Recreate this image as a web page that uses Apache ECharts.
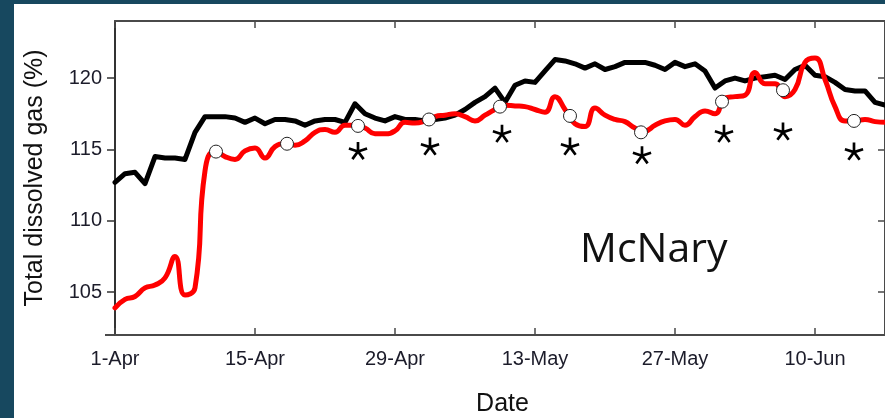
<!DOCTYPE html>
<html>
<head>
<meta charset="utf-8">
<script src="https://cdn.jsdelivr.net/npm/echarts@6/dist/echarts.min.js"></script>
<style>
  html, body { margin: 0; padding: 0; }
  body { width: 885px; height: 418px; background: #17485f; position: relative; overflow: hidden; }
  #chart { position: absolute; left: 14px; top: 4px; width: 871px; height: 414px; background: #fff; }
</style>
</head>
<body>
<div id="chart"></div>
<script>
// day 0 = 1-Apr, one value per day
var tickDays = [0, 14, 28, 42, 56, 70];
var tickLabels = ['1-Apr', '15-Apr', '29-Apr', '13-May', '27-May', '10-Jun'];
var yTicks = [105, 110, 115, 120];

// black line (daily)
var blackTDG = [
    112.7, 113.3, 113.4, 112.6, 114.5, 114.4, 114.4, 114.3, 116.2, 117.3,
    117.3, 117.3, 117.2, 116.9, 117.2, 116.8, 117.1, 117.1, 117.0, 116.7,
    117.0, 117.1, 117.1, 116.9, 118.2, 117.5, 117.2, 117.0, 117.3, 117.1,
    117.1, 117.0, 117.1, 117.2, 117.4, 117.8, 118.3, 118.7, 119.3, 118.3,
    119.5, 119.8, 119.7, 120.5, 121.3, 121.2, 121.0, 120.7, 121.0, 120.6,
    120.8, 121.1, 121.1, 121.1, 120.9, 120.6, 121.1, 120.8, 121.0, 120.5,
    119.3, 119.8, 120.0, 119.8, 120.0, 120.1, 120.2, 119.9, 120.6, 120.9,
    120.2, 120.1, 119.7, 119.2, 119.1, 119.1, 118.3, 118.1
];
// red line (daily)
var redTDG = [
    103.9, 104.5, 104.7, 105.3, 105.5, 106.0, 107.5, 104.8, 105.3, 113.5,
    114.9, 114.5, 114.3, 114.9, 115.1, 114.4, 115.2, 115.4, 115.3, 115.6,
    116.2, 116.4, 116.2, 116.7, 116.7, 116.5, 116.1, 116.1, 116.3, 116.9,
    116.85, 117.0, 117.3, 117.4, 117.5, 117.3, 117.0, 117.4, 117.8, 118.1,
    118.05, 118.0, 117.8, 117.6, 118.7, 117.8, 116.8, 116.6, 117.9, 117.4,
    117.1, 116.95, 116.5, 116.3, 116.7, 117.0, 117.1, 116.7, 117.3, 117.7,
    117.5, 118.6, 118.7, 118.8, 120.4, 119.6, 119.6, 118.7, 119.2, 121.1,
    121.4, 119.9, 118.0, 117.0, 117.0, 117.1, 116.95, 116.9
];
// open circles on the red line
var sampleDays = [10.1, 17.2, 24.3, 31.4, 38.5, 45.5, 52.6, 60.7, 66.8, 73.9];
var sampleTDG = [114.85, 115.4, 116.65, 117.1, 118.0, 117.35, 116.2, 118.35, 119.15, 117.0];
// asterisks
var starDays = [24.3, 31.5, 38.7, 45.5, 52.7, 60.9, 66.8, 73.9];
var starTDG = [114.9, 115.2, 116.1, 115.2, 114.6, 116.1, 116.25, 114.85];

function starPath() {
    // five-armed asterisk
    var R = 10, hw = 1.4, s = '';
    for (var k = 0; k < 5; k++) {
        var a = k * 72 * Math.PI / 180;
        var dx = Math.sin(a), dy = -Math.cos(a), px = Math.cos(a), py = Math.sin(a);
        var pts = [
            [px * hw, py * hw],
            [px * hw + dx * R, py * hw + dy * R],
            [-px * hw + dx * R, -py * hw + dy * R],
            [-px * hw, -py * hw]
        ];
        s += 'M' + pts.map(function (p) { return p[0].toFixed(2) + ' ' + p[1].toFixed(2); }).join(' L') + ' Z ';
    }
    return 'path://' + s;
}

var axisColor = '#4a4a4a';
var labelFont = { fontFamily: 'Liberation Sans', fontSize: 20, color: '#1c1c2a' };

var chart = echarts.init(document.getElementById('chart'));
chart.setOption({
    animation: false,
    grid: { left: 101, top: 17, width: 775, height: 314 },
    xAxis: [{
        type: 'value', min: 0, max: 77, position: 'bottom',
        axisLine: { show: true, onZero: false, lineStyle: { color: axisColor, width: 2 } },
        axisTick: { show: true, inside: true, length: 7, customValues: tickDays, lineStyle: { color: axisColor, width: 1.5 } },
        axisLabel: Object.assign({
            customValues: tickDays, margin: 14,
            formatter: function (v) { return tickLabels[tickDays.indexOf(v)]; }
        }, labelFont),
        splitLine: { show: false }
    }, {
        type: 'value', min: 0, max: 77, position: 'top',
        axisLine: { show: true, onZero: false, lineStyle: { color: axisColor, width: 2 } },
        axisTick: { show: true, inside: true, length: 7, customValues: tickDays, lineStyle: { color: axisColor, width: 1.5 } },
        axisLabel: { show: false },
        splitLine: { show: false }
    }],
    yAxis: [{
        type: 'value', min: 102, max: 124, position: 'left',
        axisLine: { show: true, onZero: false, lineStyle: { color: '#333', width: 2 } },
        axisTick: { show: true, inside: false, length: 8, customValues: yTicks, lineStyle: { color: '#333', width: 1.5 } },
        axisLabel: Object.assign({ customValues: yTicks, margin: 13 }, labelFont),
        splitLine: { show: false }
    }, {
        type: 'value', min: 102, max: 124, position: 'right',
        axisLine: { show: true, onZero: false, lineStyle: { color: axisColor, width: 2 } },
        axisTick: { show: true, inside: true, length: 7, customValues: yTicks, lineStyle: { color: axisColor, width: 1.5 } },
        axisLabel: { show: false },
        splitLine: { show: false }
    }],
    series: [{
        type: 'line',
        data: blackTDG.map(function (v, i) { return [i, v]; }),
        symbol: 'none',
        lineStyle: { color: '#000', width: 5, join: 'round', cap: 'round' },
        z: 2
    }, {
        type: 'line',
        data: redTDG.map(function (v, i) { return [i, v]; }),
        smooth: 0.5,
        symbol: 'none',
        lineStyle: { color: '#ff0000', width: 5, join: 'round', cap: 'round' },
        z: 3
    }, {
        type: 'scatter',
        data: sampleDays.map(function (d, i) { return [d, sampleTDG[i]]; }),
        symbol: 'circle',
        symbolSize: 13,
        itemStyle: { color: '#fff', borderColor: '#222', borderWidth: 1, opacity: 1 },
        z: 4
    }, {
        type: 'scatter',
        data: starDays.map(function (d, i) { return [d, starTDG[i]]; }),
        symbol: starPath(),
        symbolSize: [19, 18],
        itemStyle: { color: '#000', opacity: 1 },
        z: 4
    }],
    graphic: [{
        type: 'line',
        shape: { x1: 91, y1: 331, x2: 101, y2: 331 },
        style: { stroke: axisColor, lineWidth: 2 }
    }, {
        type: 'text',
        x: 21, y: 174, rotation: Math.PI / 2,
        style: {
            text: 'Total dissolved gas (%)', fontFamily: 'Liberation Sans', fontSize: 25,
            fill: '#111', align: 'center', verticalAlign: 'middle'
        }
    }, {
        type: 'text',
        x: 488.5, y: 400,
        style: {
            text: 'Date', fontFamily: 'Liberation Sans', fontSize: 25,
            fill: '#111', align: 'center', verticalAlign: 'middle'
        }
    }, {
        type: 'text',
        x: 566, y: 246,
        style: {
            text: 'McNary', fontFamily: 'Open Sans', fontSize: 41,
            fill: '#111', align: 'left', verticalAlign: 'middle'
        }
    }]
});
</script>
</body>
</html>
